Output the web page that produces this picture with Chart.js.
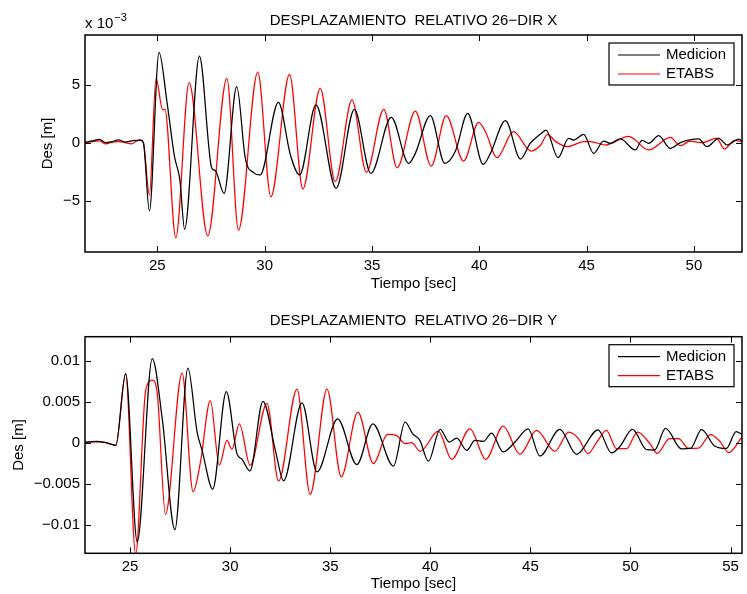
<!DOCTYPE html>
<html>
<head>
<meta charset="utf-8">
<script src="https://cdn.jsdelivr.net/npm/chart.js@4.4.1/dist/chart.umd.min.js"></script>
<style>
  html, body { margin: 0; padding: 0; background: #fff; }
  #hoja { position: relative; width: 747px; height: 594px; }
  .panel { position: absolute; left: 0; width: 747px; height: 297px; }
</style>
</head>
<body>
<div id="hoja">
  <div class="panel" style="top:0"><canvas id="dirX"></canvas></div>
  <div class="panel" style="top:297px"><canvas id="dirY"></canvas></div>
</div>
<script>
// desplazamientos en mm, tiempos en s
const tiempoMedX = [21.63, 22.0, 22.3, 22.6, 22.9, 23.2, 23.5, 23.8, 24.2, 24.35,
  24.63, 25.08, 25.45, 25.8, 26.05, 26.27, 26.96, 27.54, 27.7, 28.11,
  28.70, 29.1, 29.5, 29.79, 30.64, 31.2, 31.63, 32.39, 33.33, 34.18,
  34.95, 35.90, 36.71, 37.02, 37.72, 38.39, 38.89, 39.46, 40.18, 40.52,
  41.22, 41.92, 42.37, 42.84, 43.11, 43.67, 44.16, 44.39, 44.86, 45.33,
  45.79, 46.1, 46.57, 47.27, 47.58, 47.89, 48.36, 48.9, 49.37, 50.22,
  50.61, 51.15, 51.55, 52.09, 52.24];
const medicionX = [0.05, 0.15, 0.29, 0.0, 0.1, 0.25, 0.05, 0.15, 0.23, 0.0,
  -5.89, 7.79, 3.5, -1.2, -3.2, -7.47, 7.47, -2.2, -2.4, -4.36,
  4.83, -1.35, -2.6, -2.78, 3.48, -1.06, -2.78, 3.25, -3.93, 2.88,
  -2.64, 2.19, -1.78, -0.92, 2.33, -1.78, -0.72, 2.53, -1.86, -0.92,
  1.90, -1.41, -0.06, 0.72, 1.09, -1.29, 0.38, 0.23, 0.72, -0.92,
  0.14, -0.05, 0.32, -0.63, 0.2, -0.05, 0.6, -0.49, 0.0, 0.32,
  -0.34, 0.37, -0.2, 0.3, 0.15];

const tiempoEtabsX = [21.63, 22.0, 22.3, 22.6, 22.9, 23.2, 23.5, 23.8, 24.0, 24.2,
  24.35, 24.63, 24.94, 25.25, 25.35, 25.86, 26.48, 27.35, 28.24, 28.78,
  29.68, 30.29, 31.16, 31.78, 32.59, 33.29, 34.07, 34.74, 35.55, 36.17,
  37.02, 37.76, 38.46, 39.27, 39.97, 40.3, 40.82, 41.59, 42.41, 42.86,
  43.18, 43.56, 44.11, 44.85, 45.17, 45.87, 46.96, 47.89, 48.9, 49.37,
  49.83, 50.3, 50.6, 51.05, 51.42, 51.9, 52.24];
const etabsX = [0.0, 0.1, 0.15, -0.1, 0.05, 0.1, 0.0, -0.1, 0.1, 0.25,
  0.0, -4.51, 5.55, 2.82, 2.9, -8.19, 5.17, -8.02, 5.55, -7.53,
  6.07, -4.66, 5.89, -3.99, 4.69, -3.36, 3.68, -2.55, 2.88, -2.16,
  2.73, -2.01, 2.33, -1.58, 1.76, 0.9, -1.29, 0.95, -0.72, -0.2,
  0.72, 0.09, -0.34, 0.09, 0.1, -0.2, 0.55, -0.63, 0.45, -0.26,
  0.14, 0.0, 0.1, 0.4, -0.55, 0.2, 0.1];

const tiempoMedY = [22.75, 23.3, 23.8, 24.29, 24.78, 25.36, 26.11, 26.61, 27.24, 27.89,
  28.35, 28.6, 29.13, 29.81, 30.34, 30.59, 30.99, 31.64, 32.26, 32.67,
  33.59, 34.34, 35.37, 36.33, 37.13, 38.16, 38.74, 39.12, 39.48, 39.90,
  40.49, 40.95, 41.32, 41.82, 42.23, 42.65, 43.06, 43.64, 44.23, 44.89,
  45.47, 46.47, 47.3, 48.38, 49.05, 49.46, 50.1, 50.8, 51.2, 51.75,
  52.55, 53.0, 53.55, 54.2, 54.79, 55.28, 55.57];
const medicionY = [0.05, 0.16, 0.0, -0.32, 8.44, -12.1, 10.26, 2.9, -10.6, 9.1,
  1.3, -0.93, -5.66, 6.22, -1.33, -2.0, -3.45, 5.05, -0.93, -4.65,
  4.85, -3.56, 2.91, -2.67, 2.3, -2.87, 2.5, 1.09, 0.28, -2.26,
  1.62, 0.08, 0.57, -0.93, 0.28, 0.16, 1.17, -1.13, 0.08, 1.7,
  -1.62, 1.62, -1.41, 1.58, -1.25, -0.5, 1.62, -0.85, -0.9, 1.75,
  -0.75, -0.7, 1.6, -0.4, -0.7, 1.35, 1.0];

const tiempoEtabsY = [22.75, 23.3, 23.8, 24.29, 24.78, 25.28, 25.78, 26.11, 26.36, 26.77,
  27.6, 28.15, 28.52, 29.01, 29.46, 29.84, 30.09, 30.46, 31.0, 31.84,
  32.42, 33.34, 34.0, 34.84, 35.55, 36.38, 37.16, 37.86, 38.3, 38.74,
  39.07, 39.49, 40.4, 41.07, 41.98, 42.77, 43.64, 44.48, 45.31, 46.22,
  46.92, 47.4, 47.88, 48.3, 48.8, 49.3, 49.8, 50.35, 51.0, 51.33,
  51.95, 52.4, 52.9, 53.4, 54.0, 54.45, 54.9, 55.57];
const etabsY = [0.05, 0.1, 0.0, -0.32, 8.44, -13.6, 6.34, 7.64, 6.0, -8.73,
  8.48, -5.98, -2.34, 5.13, -2.75, 0.28, -0.81, 2.3, -2.75, 4.81,
  -4.69, 6.55, -6.3, 6.55, -4.16, 3.72, -2.55, 1.01, 0.9, -0.12,
  0.0, -1.05, 1.41, -2.02, 1.7, -2.02, 2.02, -1.41, 1.49, -1.05,
  1.29, 0.5, -1.33, 0.0, 1.49, -0.73, -0.73, 1.3, -0.2, -1.3,
  0.5, 0.5, -0.7, -0.65, 1.0, 0.2, -1.2, 0.7];

// ejes
const ticksTiempoX = [25, 30, 35, 40, 45, 50];
const ticksTiempoY = [25, 30, 35, 40, 45, 50, 55];
const ticksDesX = [-0.005, 0, 0.005];
const etiquetasDesX = ['\u22125', '0', '5'];
const ticksDesY = [-0.01, -0.005, 0, 0.005, 0.01];
const etiquetasDesY = ['\u22120.01', '\u22120.005', '0', '0.005', '0.01'];

const FUENTE = '"Liberation Sans", Arial, Helvetica, sans-serif';
Chart.defaults.font.family = FUENTE;
Chart.defaults.font.size = 15;
Chart.defaults.color = '#000';

function serie(tiempos, valoresMm) {
  return tiempos.map((t, i) => ({ x: t, y: valoresMm[i] / 1000 }));
}

// caja cerrada, marcas hacia adentro, titulo, exponente y leyenda al estilo matlab
const marcoMatlab = {
  id: 'marcoMatlab',
  afterDraw(chart, args, opts) {
    const ctx = chart.ctx;
    const a = chart.chartArea;
    const sx = chart.scales.x, sy = chart.scales.y;
    const largo = 6;
    ctx.save();
    ctx.strokeStyle = '#000';
    ctx.lineWidth = 1;
    ctx.beginPath();
    sx.ticks.forEach(t => {
      const px = Math.round(sx.getPixelForValue(t.value)) + 0.5;
      ctx.moveTo(px, a.bottom); ctx.lineTo(px, a.bottom - largo);
      ctx.moveTo(px, a.top); ctx.lineTo(px, a.top + largo);
    });
    sy.ticks.forEach(t => {
      const py = Math.round(sy.getPixelForValue(t.value)) + 0.5;
      ctx.moveTo(a.left, py); ctx.lineTo(a.left + largo, py);
      ctx.moveTo(a.right, py); ctx.lineTo(a.right - largo, py);
    });
    ctx.stroke();
    ctx.lineWidth = 1.5;
    ctx.strokeRect(a.left, a.top, a.right - a.left, a.bottom - a.top);

    ctx.fillStyle = '#000';
    ctx.font = '15px ' + FUENTE;
    ctx.textAlign = 'center';
    ctx.textBaseline = 'alphabetic';
    ctx.fillText(opts.titulo, (a.left + a.right) / 2, a.top - opts.sepTitulo);

    if (opts.exponente) {
      ctx.textAlign = 'left';
      const base = 'x 10';
      ctx.fillText(base, a.left, a.top - 7);
      const w = ctx.measureText(base).width;
      ctx.font = '11px ' + FUENTE;
      ctx.fillText(opts.exponente, a.left + w + 1, a.top - 14);
    }

    // leyenda
    const lw = 125, lh = 42;
    const x0 = a.right - 8 - lw, y0 = a.top + 8;
    ctx.fillStyle = '#fff';
    ctx.fillRect(x0, y0, lw, lh);
    ctx.lineWidth = 1.2;
    ctx.strokeStyle = '#000';
    ctx.strokeRect(x0, y0, lw, lh);
    ctx.font = '15px ' + FUENTE;
    ctx.textAlign = 'left';
    ctx.textBaseline = 'middle';
    chart.data.datasets.forEach((ds, i) => {
      const yy = y0 + 12 + i * 19;
      ctx.strokeStyle = ds.borderColor;
      ctx.lineWidth = 1.2;
      ctx.beginPath();
      ctx.moveTo(x0 + 9, yy); ctx.lineTo(x0 + 51, yy);
      ctx.stroke();
      ctx.fillStyle = '#000';
      ctx.fillText(ds.label, x0 + 57, yy);
    });
    ctx.restore();
  }
};

function panel(id, p) {
  return new Chart(document.getElementById(id), {
    type: 'line',
    data: {
      datasets: [
        { label: 'Medicion', data: serie(p.tMed, p.med), borderColor: '#000000' },
        { label: 'ETABS', data: serie(p.tEt, p.et), borderColor: '#ff0000' }
      ]
    },
    options: {
      responsive: true,
      maintainAspectRatio: false,
      animation: false,
      events: [],
      layout: { padding: { top: p.arriba, right: 5, left: 0, bottom: 0 } },
      elements: {
        point: { radius: 0 },
        line: { borderWidth: 1.25, cubicInterpolationMode: 'monotone', fill: false }
      },
      plugins: {
        legend: { display: false },
        tooltip: { enabled: false },
        marcoMatlab: { titulo: p.titulo, exponente: p.exponente, sepTitulo: p.sepTitulo }
      },
      scales: {
        x: {
          type: 'linear', min: p.xMin, max: p.xMax,
          afterBuildTicks: s => { s.ticks = p.xTicks.map(v => ({ value: v })); },
          afterFit: s => { s.height = p.altoX; },
          ticks: { padding: 4.5, callback: v => String(v) },
          grid: { display: false, drawTicks: false },
          border: { display: false },
          title: { display: true, text: 'Tiempo [sec]', padding: { top: 0, bottom: p.padTituloX } }
        },
        y: {
          type: 'linear', min: p.yMin, max: p.yMax,
          afterBuildTicks: s => { s.ticks = p.yTicks.map(v => ({ value: v })); },
          afterFit: s => { s.width = 85; },
          ticks: { padding: 5, callback: (v, i) => p.yEtiquetas[i] },
          grid: { display: false, drawTicks: false },
          border: { display: false },
          title: { display: true, text: 'Des [m]', padding: { top: p.padTituloY, bottom: 0 } }
        }
      }
    },
    plugins: [marcoMatlab]
  });
}

panel('dirX', {
  tMed: tiempoMedX, med: medicionX, tEt: tiempoEtabsX, et: etabsX,
  titulo: 'DESPLAZAMIENTO  RELATIVO 26\u2212DIR X', exponente: '\u22123', sepTitulo: 10,
  xMin: 21.63, xMax: 52.24, xTicks: ticksTiempoX,
  yMin: -0.00942, yMax: 0.00928, yTicks: ticksDesX, yEtiquetas: etiquetasDesX,
  arriba: 35, altoX: 45, padTituloX: 4.5, padTituloY: 39
});

panel('dirY', {
  tMed: tiempoMedY, med: medicionY, tEt: tiempoEtabsY, et: etabsY,
  titulo: 'DESPLAZAMIENTO  RELATIVO 26\u2212DIR Y', exponente: null, sepTitulo: 11.7,
  xMin: 22.75, xMax: 55.57, xTicks: ticksTiempoY,
  yMin: -0.01349, yMax: 0.01293, yTicks: ticksDesY, yEtiquetas: etiquetasDesY,
  arriba: 39.7, altoX: 40.7, padTituloX: 1, padTituloY: 10
});
</script>
</body>
</html>
